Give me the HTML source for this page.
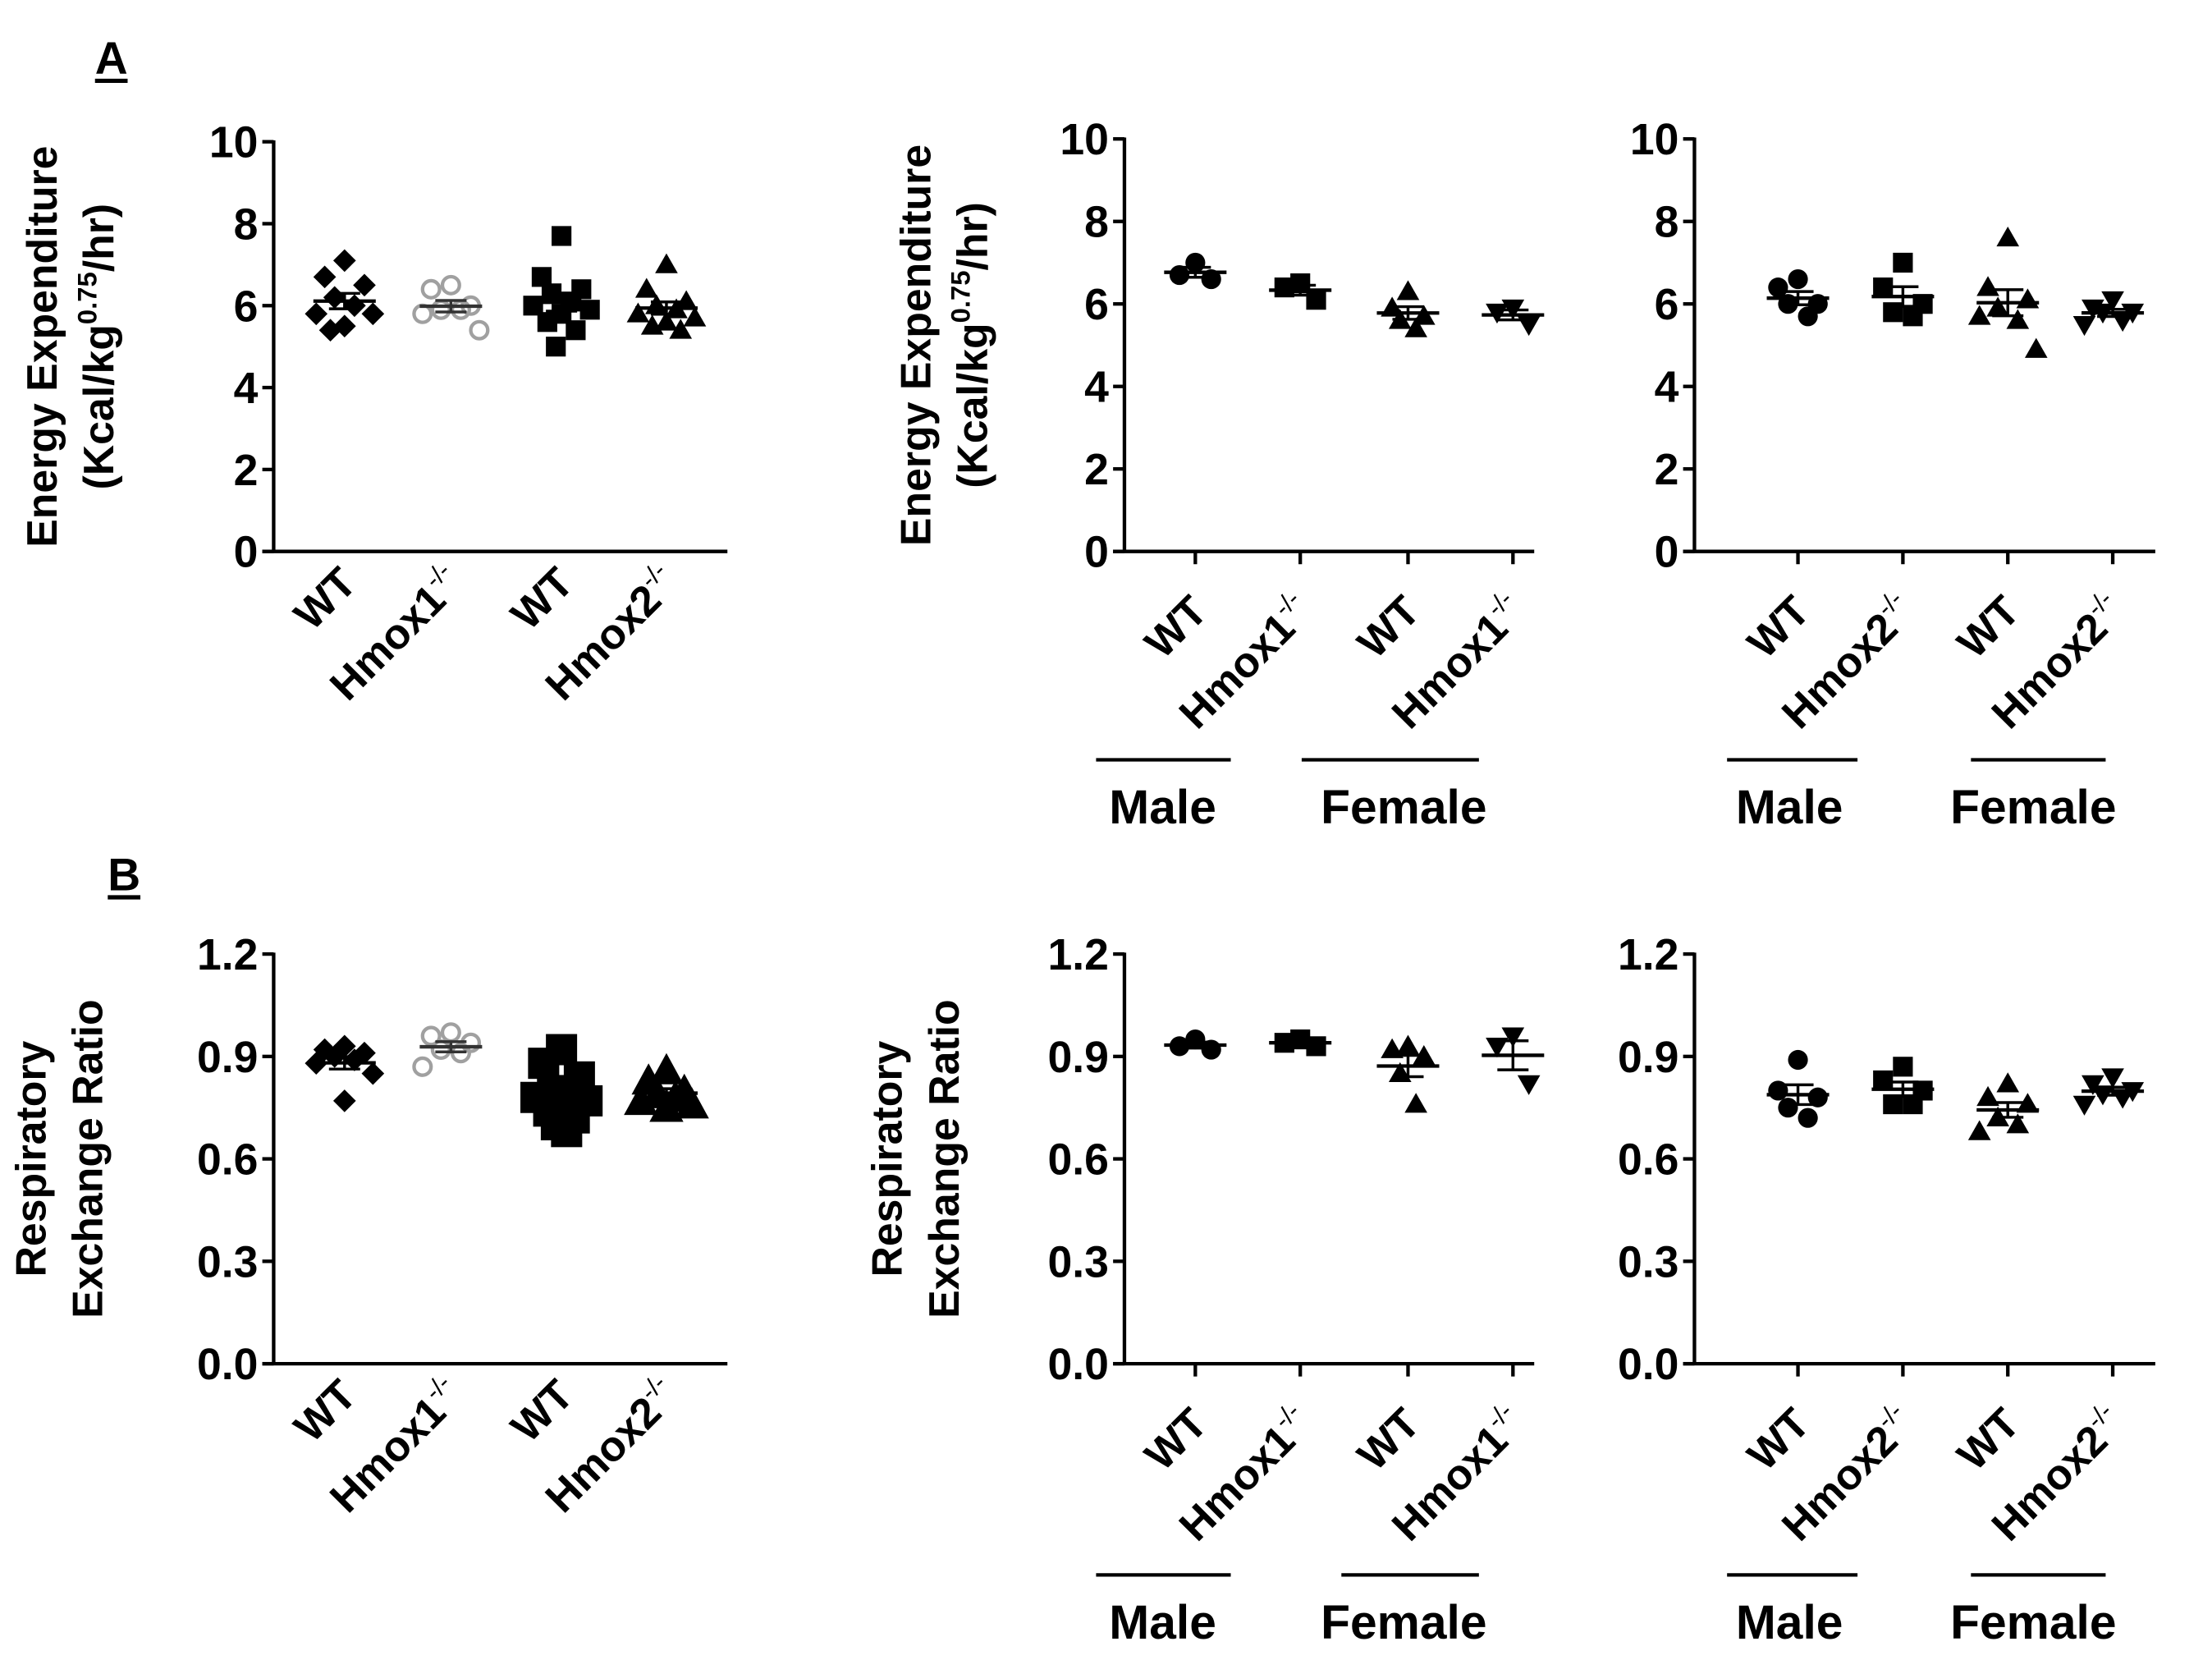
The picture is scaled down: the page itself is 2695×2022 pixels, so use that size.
<!DOCTYPE html>
<html><head><meta charset="utf-8"><style>
html,body{margin:0;padding:0;background:#fff;}
svg{display:block;font-family:"Liberation Sans",Arial,sans-serif;font-weight:bold;}
</style></head><body>
<svg id="fig" width="2695" height="2022" viewBox="0 0 1560 1171" preserveAspectRatio="none" xmlns="http://www.w3.org/2000/svg">
<text x="67" y="52" font-size="32">A</text>
<line x1="67" y1="57" x2="90" y2="57" stroke="#000" stroke-width="3"/>
<text x="76" y="628" font-size="32">B</text>
<line x1="76" y1="633" x2="99" y2="633" stroke="#000" stroke-width="3"/>
</svg>
<script>
// ---- data ----
const catsA1 = ["WT","Hmox1","WT","Hmox2"];
const catsH1 = ["WT","Hmox1","WT","Hmox1"];
const catsH2 = ["WT","Hmox2","WT","Hmox2"];
const eeA1_wt1 = [7.1,6.7,6.5,6.2,6.0,5.8,5.8,5.5,5.4];
const eeA1_ko1 = [6.5,6.4,6.0,5.9,5.9,5.8,5.4];
const eeA1_wt2 = [7.7,6.7,6.4,6.3,6.1,6.0,5.9,5.8,5.6,5.4,5.0];
const eeA1_ko2 = [7.0,6.4,6.1,6.0,5.9,5.8,5.7,5.6,5.5,5.4];
const eeA2_mwt = [7.0,6.7,6.6];
const eeA2_mko = [6.5,6.4,6.1];
const eeA2_fwt = [6.3,5.9,5.7,5.6,5.4];
const eeA2_fko = [5.9,5.8,5.5];
const eeA3_mwt = [6.6,6.4,6.0,6.0,5.7];
const eeA3_mko = [7.0,6.4,6.0,5.8,5.7];
const eeA3_fwt = [7.6,6.4,6.1,5.9,5.6,5.7,4.9];
const eeA3_fko = [6.1,5.9,5.8,5.8,5.6,5.5];
const rerB1_wt1 = [0.93,0.92,0.91,0.90,0.89,0.88,0.85,0.77];
const rerB1_ko1 = [0.97,0.96,0.94,0.92,0.91,0.87];
const rerB1_wt2 = [0.92,0.88,0.84,0.80,0.79,0.78,0.77,0.76,0.74,0.72,0.70,0.68];
const rerB1_ko2 = [0.86,0.83,0.80,0.79,0.78,0.77,0.76,0.75];
const rerB2_mwt = [0.95,0.93,0.92];
const rerB2_mko = [0.95,0.94,0.93];
const rerB2_fwt = [0.93,0.92,0.90,0.85,0.76];
const rerB2_fko = [0.96,0.93,0.82];
const rerB3_mwt = [0.89,0.80,0.78,0.75,0.72];
const rerB3_mko = [0.87,0.83,0.80,0.76,0.76];
const rerB3_fwt = [0.82,0.78,0.76,0.72,0.70,0.68];
const rerB3_fko = [0.84,0.82,0.80,0.79,0.78,0.76];
const ticksEE = [0,2,4,6,8,10];
const ticksRER = [0.0,0.3,0.6,0.9,1.2];
// ----
const svg = document.getElementById('fig');
const NS = "http://www.w3.org/2000/svg";
function mk(tag, attrs, parent){const e=document.createElementNS(NS,tag);for(const k in attrs)e.setAttribute(k,attrs[k]);(parent||svg).appendChild(e);return e;}
function marker(g, shape, x, y, color, sz){
  const r=sz||8; let e;
  if(shape==='circle'){e=mk('circle',{cx:x,cy:y,r:r-1,fill:color},g);}
  else if(shape==='ocircle'){e=mk('circle',{cx:x,cy:y,r:r-2,fill:'none',stroke:'#a0a0a0','stroke-width':2.5},g);}
  else if(shape==='square'){e=mk('rect',{x:x-r+1,y:y-r+1,width:2*r-2,height:2*r-2,fill:color},g);}
  else if(shape==='diamond'){e=mk('polygon',{points:`${x},${y-r} ${x+r},${y} ${x},${y+r} ${x-r},${y}`,fill:color},g);}
  else if(shape==='tri'){e=mk('polygon',{points:`${x},${y-r} ${x+r},${y+r-2} ${x-r},${y+r-2}`,fill:color},g);}
  else {e=mk('polygon',{points:`${x},${y+r} ${x+r},${y-r+2} ${x-r},${y-r+2}`,fill:color},g);}
  
  
}
const offs=[0,-14,14,-7,7,-20,20,0,-10,10,-4,4];
function panel(cfg){
  const g=mk('g',{});
  
  
  const x0=cfg.x0, x1=cfg.x1, yT=cfg.yT, yB=cfg.yB;
  const ymax=cfg.ticks[cfg.ticks.length-1];
  const Y=v=>yB-(v/ymax)*(yB-yT);
  const X=i=>cfg.cx[i];
  const ax=mk('line',{x1:x0,y1:yT-1,x2:x0,y2:yB,stroke:'#000','stroke-width':2.5},g);
  
  
  const bx=mk('line',{x1:x0-8,y1:yB,x2:x1,y2:yB,stroke:'#000','stroke-width':2.5},g);
  
  
  cfg.ticks.forEach(t=>{
    mk('line',{x1:x0-8,y1:Y(t),x2:x0,y2:Y(t),stroke:'#000','stroke-width':2.5},g);
    const tx=mk('text',{x:x0-11,y:Y(t)+11,'font-size':31,'text-anchor':'end'},g);
    tx.textContent=cfg.dec?t.toFixed(1):String(t);
    
    
  });
  if(cfg.xticks){cfg.cx.forEach(c=>mk('line',{x1:c,y1:yB,x2:c,y2:yB+9,stroke:'#000','stroke-width':2.5},g));}
  cfg.series.forEach((s,i)=>{
    const vals=s.v, c=X(i);
    vals.forEach((v,j)=>marker(g,s.shape,c+offs[j%offs.length]*(s.spread||1),Y(v),s.color||'#000',s.sz));
    const m=vals.reduce((a,b)=>a+b,0)/vals.length;
    const sd=Math.sqrt(vals.reduce((a,b)=>a+(b-m)*(b-m),0)/(vals.length-1));
    const se=sd/Math.sqrt(vals.length);
    const col=s.color==='#a0a0a0'?'#333':'#000';
    const ml=mk('line',{x1:c-22,y1:Y(m),x2:c+22,y2:Y(m),stroke:col,'stroke-width':2.5},g);
    
    
    mk('line',{x1:c,y1:Y(m+se),x2:c,y2:Y(m-se),stroke:col,'stroke-width':2},g);
    mk('line',{x1:c-11,y1:Y(m+se),x2:c+11,y2:Y(m+se),stroke:col,'stroke-width':2},g);
    mk('line',{x1:c-11,y1:Y(m-se),x2:c+11,y2:Y(m-se),stroke:col,'stroke-width':2},g);
    const lab=cfg.cats[i];
    const ly=yB+cfg.labOff;
    const t=mk('text',{x:c+10,y:ly,'font-size':30,'text-anchor':'end',transform:`rotate(-45 ${c+10} ${ly})`},g);
    
    
    t.textContent=lab;
    if(lab!=='WT'){const sp=mk('tspan',{'font-size':18,dy:-13,'font-weight':'normal'},t);sp.textContent='-/-';}
  });
  const cy=(yT+yB)/2;
  cfg.title.forEach((ln,k)=>{
    const tx=cfg.titleX+k*40;
    const t=mk('text',{x:tx,y:cy,'font-size':30,'text-anchor':'middle',transform:`rotate(-90 ${tx} ${cy})`},g);
    
    
    if(ln==='KCAL'){t.textContent='(Kcal/kg';const sp=mk('tspan',{'font-size':19,dy:-12},t);sp.textContent='0.75';const sp2=mk('tspan',{dy:12},t);sp2.textContent='/hr)';}
    else t.textContent=ln;
  });
  if(cfg.sex){
    cfg.sex.forEach(s=>{
      const l=mk('line',{x1:s.a,y1:cfg.sexY,x2:s.b,y2:cfg.sexY,stroke:'#000','stroke-width':2.5},g);
      
      
      const t=mk('text',{x:s.c,y:cfg.sexY+45,'font-size':34,'text-anchor':'middle'},g);
      t.textContent=s.t;
      
      
    });
  }
}
const EE=["Energy Expenditure","KCAL"], RER=["Respiratory","Exchange Ratio"];
panel({name:'panel-a1',x0:193,x1:513,yT:100,yB:389,ticks:ticksEE,cx:[243,318,396,470],cats:catsA1,labOff:24,title:EE,titleX:40,
 series:[{v:eeA1_wt1,shape:'diamond'},{v:eeA1_ko1,shape:'ocircle',color:'#a0a0a0'},{v:eeA1_wt2,shape:'square'},{v:eeA1_ko2,shape:'tri'}]});
panel({name:'panel-a2',x0:793,x1:1082,yT:98,yB:389,ticks:ticksEE,cx:[843,917,993,1067],cats:catsH1,labOff:44,xticks:true,title:EE,titleX:656,
 sex:[{a:773,b:868,c:820,t:'Male'},{a:918,b:1043,c:990,t:'Female'}],sexY:536,
 series:[{v:eeA2_mwt,shape:'circle',spread:0.8},{v:eeA2_mko,shape:'square',spread:0.8},{v:eeA2_fwt,shape:'tri',spread:0.8},{v:eeA2_fko,shape:'itri',spread:0.8}]});
panel({name:'panel-a3',x0:1195,x1:1520,yT:98,yB:389,ticks:ticksEE,cx:[1268,1342,1416,1490],cats:catsH2,labOff:44,xticks:true,title:[],titleX:0,
 sex:[{a:1218,b:1310,c:1262,t:'Male'},{a:1390,b:1485,c:1434,t:'Female'}],sexY:536,
 series:[{v:eeA3_mwt,shape:'circle'},{v:eeA3_mko,shape:'square'},{v:eeA3_fwt,shape:'tri'},{v:eeA3_fko,shape:'itri'}]});
panel({name:'panel-b1',x0:193,x1:513,yT:673,yB:962,ticks:ticksRER,dec:true,cx:[243,318,396,470],cats:catsA1,labOff:24,title:RER,titleX:32,
 series:[{v:rerB1_wt1,shape:'diamond'},{v:rerB1_ko1,shape:'ocircle',color:'#a0a0a0'},{v:rerB1_wt2,shape:'square',spread:0.9,sz:12},{v:rerB1_ko2,shape:'tri',spread:0.9,sz:12}]});
panel({name:'panel-b2',x0:793,x1:1082,yT:673,yB:962,ticks:ticksRER,dec:true,cx:[843,917,993,1067],cats:catsH1,labOff:44,xticks:true,title:RER,titleX:636,
 sex:[{a:773,b:868,c:820,t:'Male'},{a:946,b:1043,c:990,t:'Female'}],sexY:1111,
 series:[{v:rerB2_mwt,shape:'circle',spread:0.8},{v:rerB2_mko,shape:'square',spread:0.8},{v:rerB2_fwt,shape:'tri',spread:0.8},{v:rerB2_fko,shape:'itri',spread:0.8}]});
panel({name:'panel-b3',x0:1195,x1:1520,yT:673,yB:962,ticks:ticksRER,dec:true,cx:[1268,1342,1416,1490],cats:catsH2,labOff:44,xticks:true,title:[],titleX:0,
 sex:[{a:1218,b:1310,c:1262,t:'Male'},{a:1390,b:1485,c:1434,t:'Female'}],sexY:1111,
 series:[{v:rerB3_mwt,shape:'circle'},{v:rerB3_mko,shape:'square'},{v:rerB3_fwt,shape:'tri'},{v:rerB3_fko,shape:'itri'}]});
</script>
</body></html>
